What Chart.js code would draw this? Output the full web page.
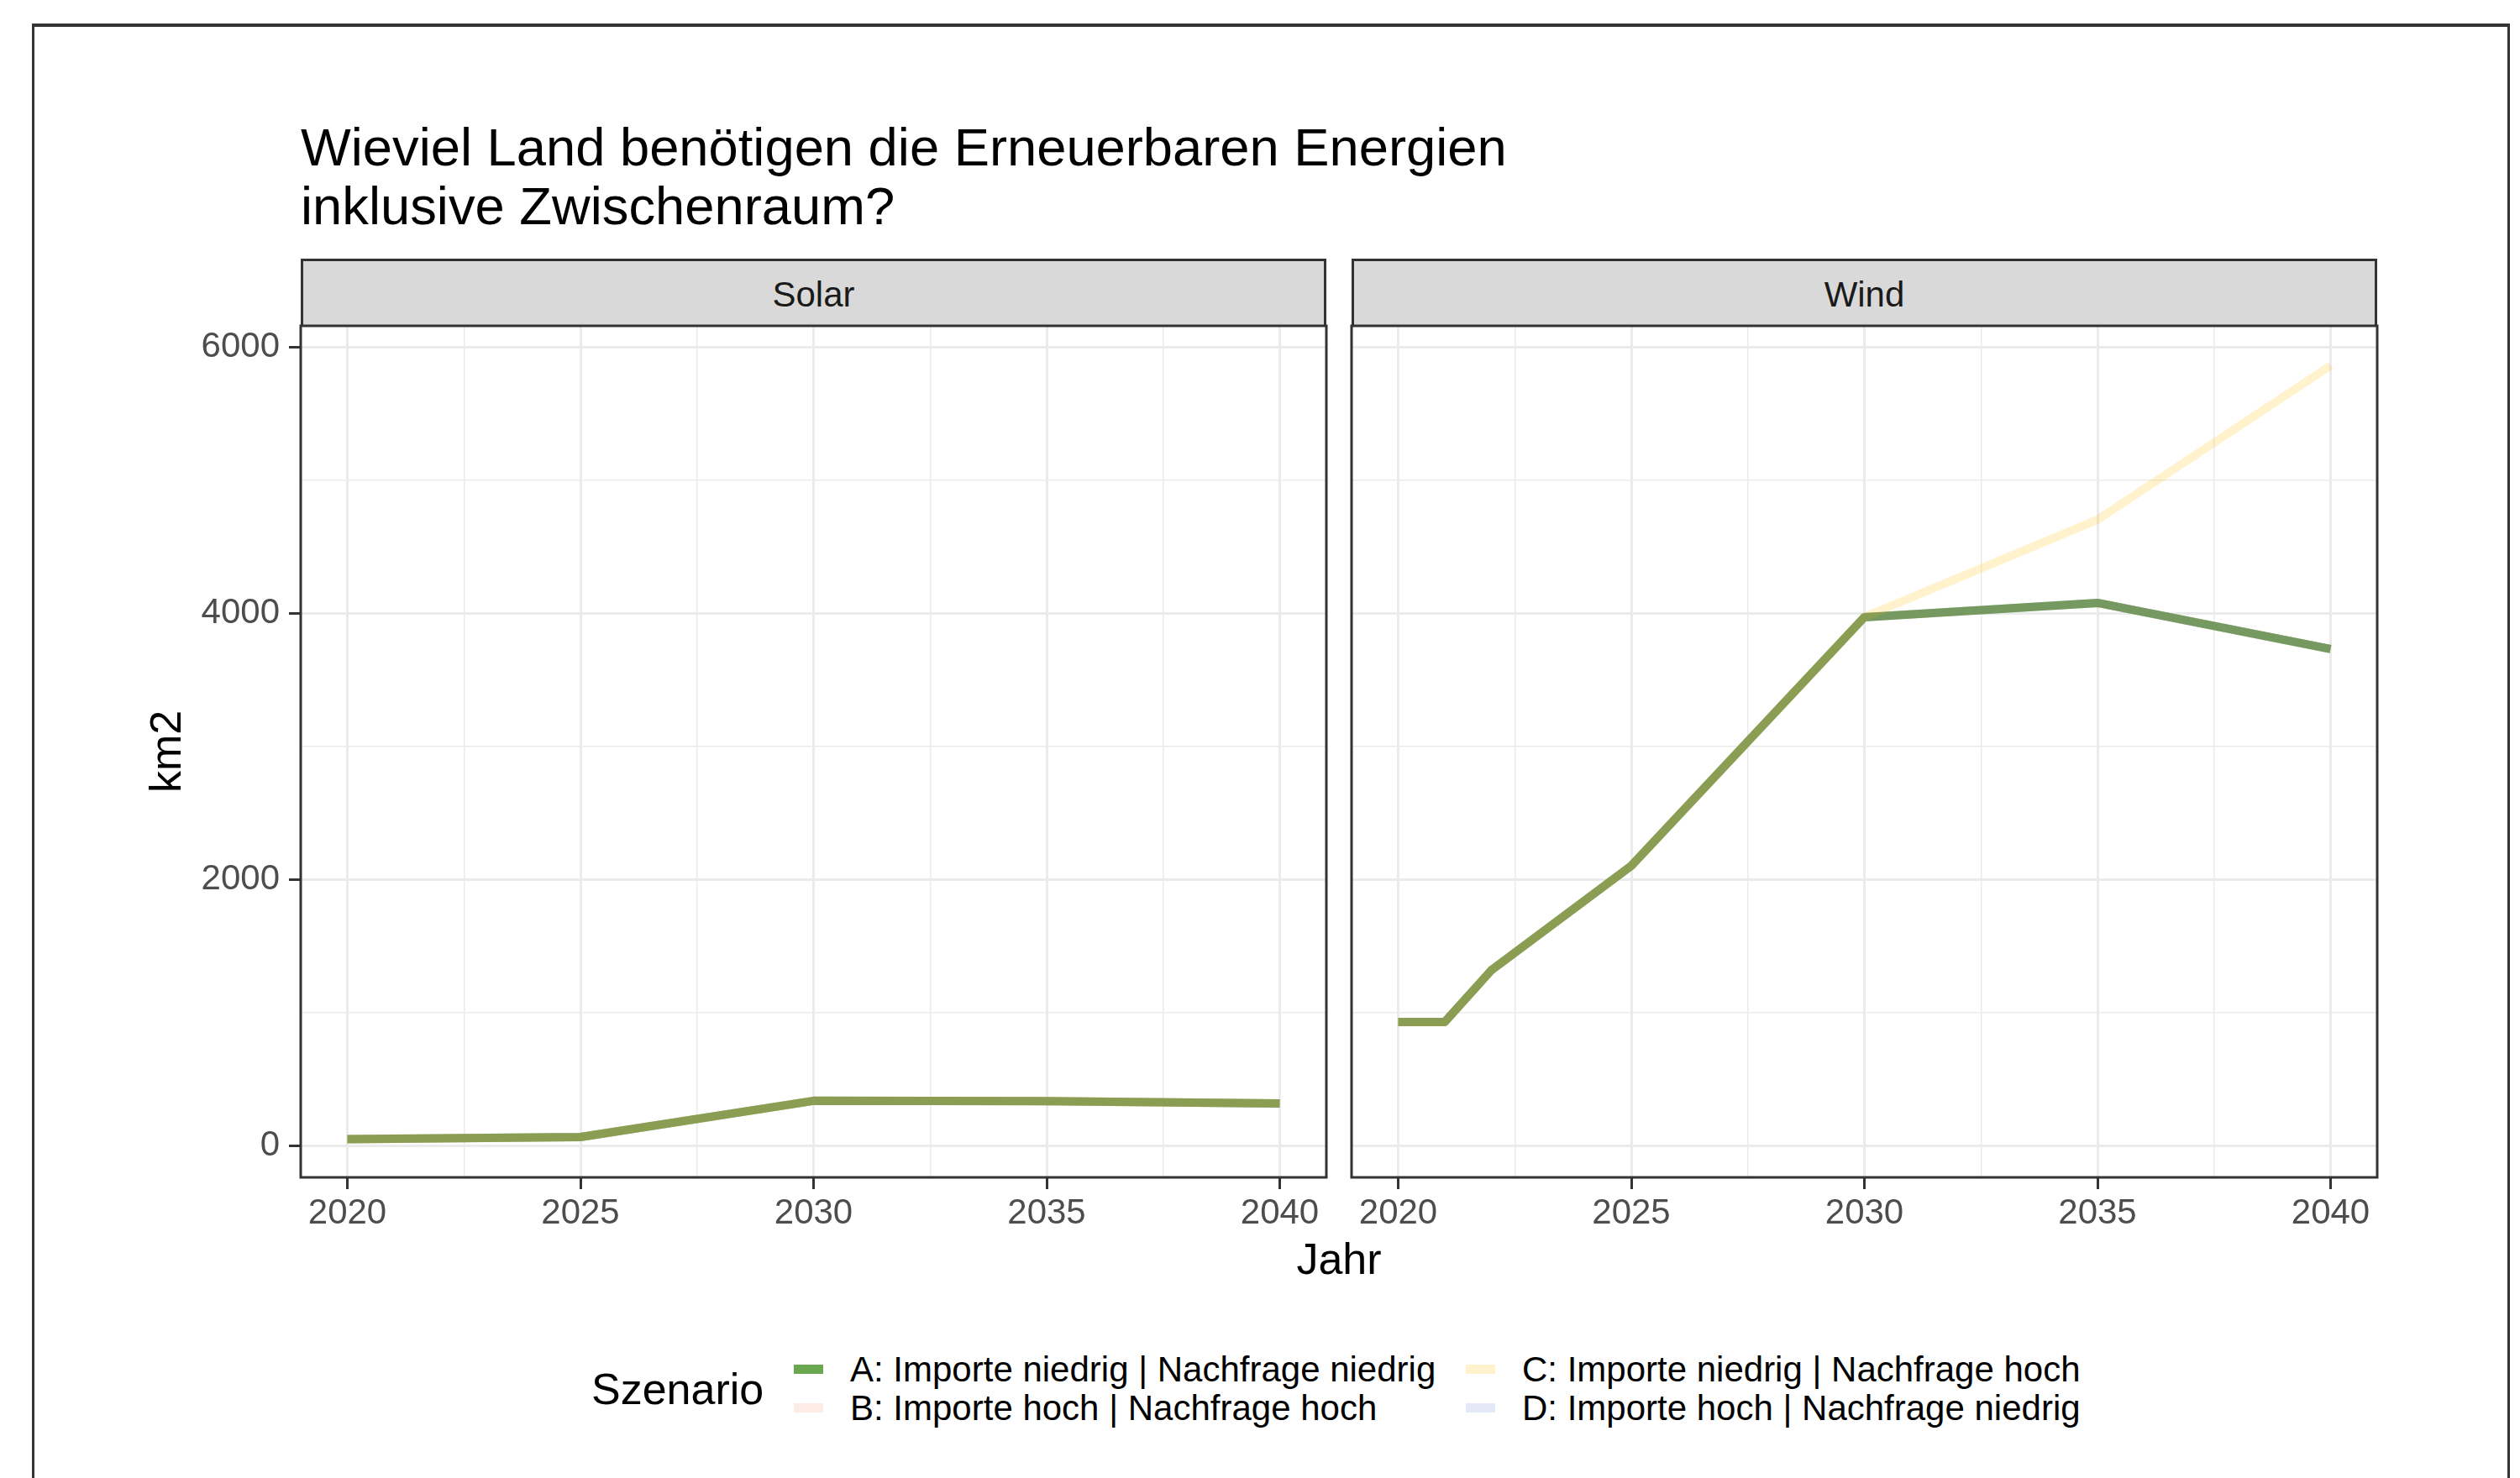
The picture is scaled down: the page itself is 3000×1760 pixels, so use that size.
<!DOCTYPE html>
<html>
<head>
<meta charset="utf-8">
<script src="https://cdn.jsdelivr.net/npm/chart.js@4.4.1/dist/chart.umd.min.js"></script>
<style>
  html, body { margin: 0; padding: 0; background: #ffffff; }
  body { width: 3000px; height: 1760px; position: relative; overflow: hidden;
         font-family: "Liberation Sans", Arial, Helvetica, sans-serif; }
  .abs { position: absolute; white-space: nowrap; }
  #frame { left: 38px; top: 28px; width: 2950px; height: 1800px; box-sizing: border-box;
           border: 3px solid #333333; border-top-width: 4px; }
  #title { left: 358px; top: 140px; font-size: 63.3px; line-height: 70px; color: #000; }
  .strip { height: 80px; width: 1221px; top: 308px; box-sizing: border-box; background: #d9d9d9;
           border: 3px solid #333333; border-bottom: none; text-align: center;
           font-size: 42px; line-height: 80px; color: #1a1a1a; }
  canvas { position: absolute; }
  #ylab { font-size: 52px; line-height: 52px; color: #000; width: 200px; text-align: center;
          left: 97px; top: 869px; transform: rotate(-90deg); transform-origin: 100px 26px; }
  #xlab { font-size: 52px; line-height: 52px; color: #000; left: 1494px; width: 200px;
          text-align: center; top: 1473px; }
  .legtitle { font-size: 52px; line-height: 52px; color: #000; }
  .legtext { font-size: 42px; line-height: 42px; color: #000; }
  .key { width: 35px; height: 11px; }
</style>
</head>
<body>
<div id="frame" class="abs"></div>
<div id="title" class="abs">Wieviel Land benötigen die Erneuerbaren Energien<br>inklusive Zwischenraum?</div>
<div id="stripSolar" class="abs strip" style="left:358px;"></div>
<div id="stripWind" class="abs strip" style="left:1609px;"></div>
<canvas id="c1" width="1450" height="1144" style="left:150px; top:338px;"></canvas>
<canvas id="c2" width="1250" height="1144" style="left:1600px; top:338px;"></canvas>
<div id="ylab" class="abs">km2</div>
<div id="xlab" class="abs">Jahr</div>
<div id="legend"></div>
<script>
// ---------------- data ----------------
const panels = ["Solar", "Wind"];
const scenarios = [
  "A: Importe niedrig | Nachfrage niedrig",
  "B: Importe hoch | Nachfrage hoch",
  "C: Importe niedrig | Nachfrage hoch",
  "D: Importe hoch | Nachfrage niedrig"
];
const legendTitle = "Szenario";
const xTitle = "Jahr";
const yTitle = "km2";

const yearsSolar = [2020, 2025, 2030, 2035, 2040];
const solarA = [50, 66, 338, 336, 318];
const solarB = [50, 66, 338, 336, 318];
const solarC = [50, 66, 338, 336, 318];
const solarD = [50, 66, 338, 336, 318];

const yearsWind = [2020, 2021, 2022, 2025, 2030, 2035, 2040];
const windA = [931, 931, 1320, 2104, 3972, 4079, 3732];
const windB = [931, 931, 1320, 2104, 3972, 4079, 3732];
const windC = [931, 931, 1320, 2104, 3972, 4704, 5862];
const windD = [931, 931, 1320, 2104, 3972, 4079, 3732];

const yTicks = [0, 1000, 2000, 3000, 4000, 5000, 6000];
const yMajor = [0, 2000, 4000, 6000];
const xTicks = [2020, 2022.5, 2025, 2027.5, 2030, 2032.5, 2035, 2037.5, 2040];
const xMajor = [2020, 2025, 2030, 2035, 2040];
const yMin = -237, yMax = 6161;
const xMin = 2019, xMax = 2041;

// ---------------- styles ----------------
const seriesColors = [
  "rgba(106,168,79,1)",
  "rgba(240,120,80,0.15)",
  "rgba(255,190,0,0.2)",
  "rgba(70,110,200,0.15)"
];
const FONT = '"Liberation Sans", Arial, Helvetica, sans-serif';

document.getElementById("stripSolar").textContent = panels[0];
document.getElementById("stripWind").textContent = panels[1];
document.getElementById("xlab").textContent = xTitle;
document.getElementById("ylab").textContent = yTitle;

// legend (column-major 2x2 like ggplot)
const legend = document.getElementById("legend");
function addAbs(cls, text, left, top, extraStyle) {
  const d = document.createElement("div");
  d.className = "abs " + cls;
  if (text !== null) d.textContent = text;
  d.style.left = left + "px"; d.style.top = top + "px";
  if (extraStyle) Object.assign(d.style, extraStyle);
  legend.appendChild(d);
  return d;
}
addAbs("legtitle", legendTitle, 704, 1628);
const keyLeft = [945, 945, 1745, 1745];
const textLeft = [1012, 1012, 1812, 1812];
const rowCenter = [1630, 1676, 1630, 1676];
scenarios.forEach((s, i) => {
  addAbs("key", null, keyLeft[i], rowCenter[i] - 5.5, { background: seriesColors[i] });
  addAbs("legtext", s, textLeft[i], rowCenter[i] + 15 - 35.5);
});

// ---------------- charts ----------------
function pts(xs, ys) { return xs.map((x, i) => ({ x: x, y: ys[i] })); }

const panelBorder = {
  id: "panelBorder",
  afterDatasetsDraw(chart) {
    const { ctx, chartArea: a } = chart;
    ctx.save();
    ctx.strokeStyle = "#333333";
    ctx.lineWidth = 3;
    ctx.strokeRect(a.left, a.top, a.right - a.left, a.bottom - a.top);
    ctx.restore();
  }
};

function makeDatasets(series) {
  return series.map((d, i) => ({
    label: scenarios[i],
    data: d,
    borderColor: seriesColors[i],
    backgroundColor: seriesColors[i],
    borderWidth: 10,
    borderJoinStyle: "round",
    pointRadius: 0,
    pointHoverRadius: 0,
    fill: false,
    tension: 0,
    order: 3 - i
  }));
}

function makeChart(canvasId, series, showY, padding) {
  return new Chart(document.getElementById(canvasId), {
    type: "line",
    data: { datasets: makeDatasets(series) },
    plugins: [panelBorder],
    options: {
      responsive: false,
      animation: false,
      devicePixelRatio: 1,
      layout: { padding: padding },
      plugins: { legend: { display: false }, tooltip: { enabled: false }, title: { display: false } },
      scales: {
        x: {
          type: "linear",
          min: xMin, max: xMax,
          afterBuildTicks: (s) => { s.ticks = xTicks.map(v => ({ value: v })); },
          afterFit: (s) => { s.height = 80; },
          border: { display: false },
          grid: {
            color: "#ebebeb",
            lineWidth: (c) => (xMajor.includes(c.tick && c.tick.value) ? 3 : 1.5),
            drawTicks: true,
            tickLength: 14,
            tickWidth: 3,
            tickColor: (c) => (xMajor.includes(c.tick && c.tick.value) ? "#333333" : "rgba(0,0,0,0)")
          },
          ticks: {
            autoSkip: false,
            maxRotation: 0,
            padding: 4,
            color: "#4d4d4d",
            font: { family: FONT, size: 42 },
            callback: (v) => (xMajor.includes(v) ? String(v) : "")
          }
        },
        y: {
          type: "linear",
          min: yMin, max: yMax,
          afterBuildTicks: (s) => { s.ticks = yTicks.map(v => ({ value: v })); },
          afterFit: (s) => { s.width = showY ? 208 : 0; },
          border: { display: false },
          grid: {
            color: "#ebebeb",
            lineWidth: (c) => (yMajor.includes(c.tick && c.tick.value) ? 3 : 1.5),
            drawTicks: showY,
            tickLength: 14,
            tickWidth: 3,
            tickColor: (c) => (yMajor.includes(c.tick && c.tick.value) ? "#333333" : "rgba(0,0,0,0)")
          },
          ticks: {
            display: showY,
            autoSkip: false,
            padding: 11,
            color: "#4d4d4d",
            font: { family: FONT, size: 42 },
            callback: (v) => (yMajor.includes(v) ? String(v) : "")
          }
        }
      }
    }
  });
}

makeChart("c1", [pts(yearsSolar, solarA), pts(yearsSolar, solarB), pts(yearsSolar, solarC), pts(yearsSolar, solarD)],
          true, { top: 50, right: 21, bottom: 0, left: 0 });
makeChart("c2", [pts(yearsWind, windA), pts(yearsWind, windB), pts(yearsWind, windC), pts(yearsWind, windD)],
          false, { top: 50, right: 20, bottom: 0, left: 9 });
</script>
</body>
</html>
